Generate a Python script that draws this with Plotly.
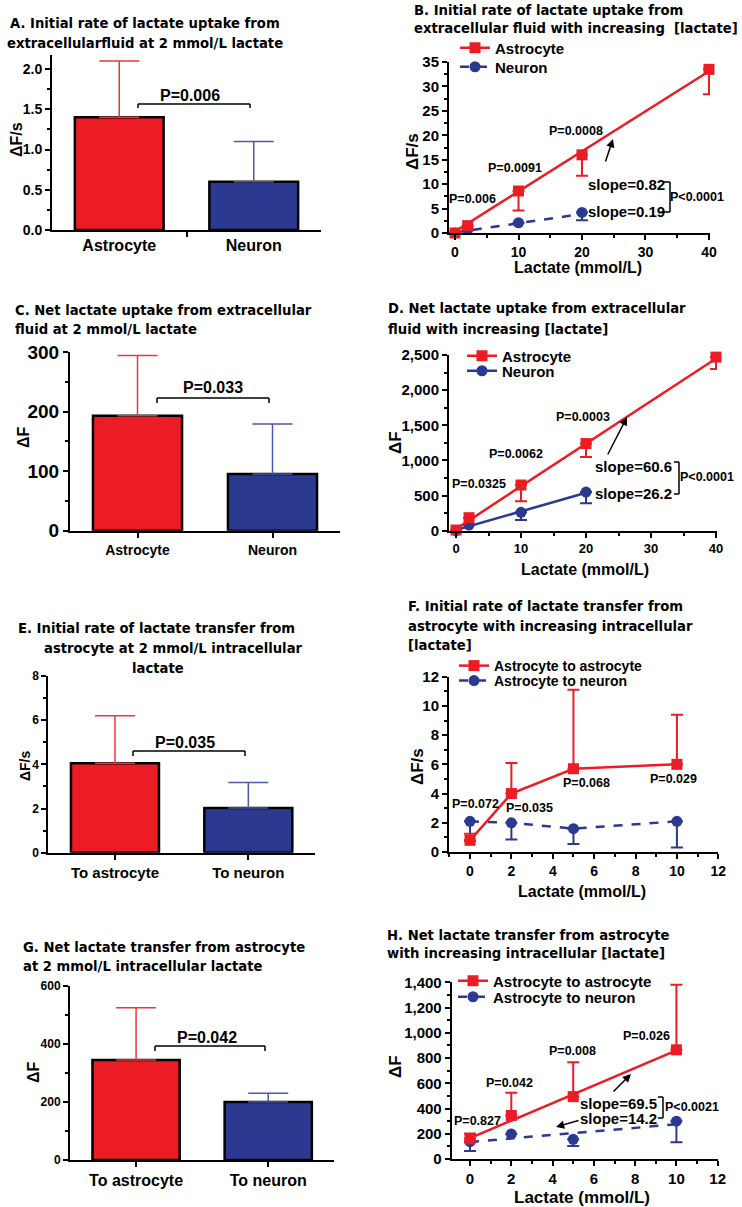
import plotly.graph_objects as go

W, H = 742, 1207
RED = "#EC1C24"
BLUE = "#2B3990"
RED_ERR = "#E8383D"
BLUE_ERR = "#4A5AA8"
FONT = "Liberation Sans"
TFONT = "DejaVu Sans"

# ---------------- data ----------------
# A: initial rate of uptake at 2 mmol/L
a_cats = ["Astrocyte", "Neuron"]
a_mean = [1.40, 0.60]
a_err = [0.70, 0.50]

# C: net uptake at 2 mmol/L
c_cats = ["Astrocyte", "Neuron"]
c_mean = [193, 95]
c_err = [101, 84]

# E: initial rate of transfer
e_cats = ["To astrocyte", "To neuron"]
e_mean = [4.05, 2.02]
e_err = [2.15, 1.16]

# G: net transfer
g_cats = ["To astrocyte", "To neuron"]
g_mean = [345, 200]
g_err = [180, 30]

# B: initial rate vs [lactate]
b_x_ast = [0, 2, 10, 20, 40]
b_y_ast = [0, 1.5, 8.6, 16.0, 33.5]
b_sd_ast = [0, 0, 4.0, 4.3, 5.1]
b_x_neu = [0, 2, 10, 20]
b_y_neu = [0, 0.7, 2.1, 4.2]
b_sd_neu = [0, 0, 0, 1.6]
b_fit_x_ast, b_fit_y_ast = [0, 40], [0.3, 33.1]
b_fit_x_neu, b_fit_y_neu = [0, 20], [0.1, 3.9]

# D: net uptake vs [lactate]
d_x_ast = [0, 2, 10, 20, 40]
d_y_ast = [10, 185, 650, 1240, 2470]
d_sd_ast = [0, 0, 230, 190, 170]
d_x_neu = [0, 2, 10, 20]
d_y_neu = [0, 80, 262, 550]
d_sd_neu = [0, 0, 110, 160]
d_fit_x_ast, d_fit_y_ast = [0, 40], [25, 2450]
d_fit_x_neu, d_fit_y_neu = [0, 20], [10, 540]

# F: initial transfer rate vs intracellular [lactate]
f_x = [0, 2, 5, 10]
f_y_ast = [0.8, 4.0, 5.7, 6.0]
f_up_ast = [0.45, 2.1, 5.4, 3.4]
f_y_neu = [2.1, 2.0, 1.6, 2.1]
f_dn_neu = [1.35, 1.15, 1.05, 1.8]

# H: net transfer vs intracellular [lactate]
h_x = [0, 2, 5, 10]
h_y_ast = [160, 345, 494, 865]
h_up_ast = [43, 180, 272, 515]
h_y_neu = [137, 198, 156, 300]
h_dn_neu = [74, 0, 53, 168]
h_fit_x_ast, h_fit_y_ast = [0, 10], [165, 860]
h_fit_x_neu, h_fit_y_neu = [0, 10], [135, 275]


def px(x):
    return x / W


def py(y):
    return 1 - y / H


def bfont(size, family=FONT):
    return dict(family=family, size=size, color="black", weight="bold")


fig = go.Figure()
layout = dict(width=W, height=H,
              margin=dict(l=0, r=0, t=0, b=0, pad=0, autoexpand=False),
              plot_bgcolor="white", paper_bgcolor="white", barmode="overlay",
              showlegend=True)
annotations = []
shapes = []


def sfx(n):
    return "" if n == 1 else str(n)


def axes(n, xpx, ypx, xr, yr, xkw, ykw):
    base = dict(showline=True, linecolor="black", linewidth=2, ticks="outside",
                ticklen=5, tickwidth=2, tickcolor="black", showgrid=False,
                zeroline=False, fixedrange=True, automargin=False)
    s = sfx(n)
    layout["xaxis" + s] = dict(base, domain=[px(xpx[0]), px(xpx[1])], range=xr,
                               anchor="y" + s, **xkw)
    layout["yaxis" + s] = dict(base, domain=[py(ypx[0]), py(ypx[1])], range=yr,
                               anchor="x" + s, **ykw)


def minor(d):
    return dict(ticks="outside", ticklen=3, tickwidth=1.5, tickcolor="black", dtick=d)


def txt(x, y, s, size=12, anchor="center", angle=0, family=FONT):
    annotations.append(dict(x=px(x), y=py(y), xref="paper", yref="paper", text=s,
                            showarrow=False, font=bfont(size, family), xanchor=anchor,
                            yanchor="middle", textangle=angle))


def title(x, y, s, anchor="left"):
    txt(x, y, s, 13.2, anchor, family=TFONT)


def arrow(hx, hy, tx, ty):
    annotations.append(dict(x=px(hx), y=py(hy), xref="paper", yref="paper", text="",
                            showarrow=True, ax=tx - hx, ay=ty - hy, arrowhead=2,
                            arrowsize=1.1, arrowwidth=1.5, arrowcolor="black"))


def seg(x0, y0, x1, y1, w=1.5):
    shapes.append(dict(type="line", xref="paper", yref="paper", x0=px(x0), y0=py(y0),
                       x1=px(x1), y1=py(y1), line=dict(color="black", width=w)))


def pbracket(x0, x1, y, leg, label, tx, ty, size=16):
    seg(x0, y, x1, y)
    seg(x0, y, x0, y + leg)
    seg(x1, y, x1, y + leg)
    txt(tx, ty, label, size)


def bars(n, mean, err):
    s = sfx(n)
    for i, (m, e, col, ecol) in enumerate(zip(mean, err, [RED, BLUE], [RED_ERR, BLUE_ERR])):
        fig.add_trace(go.Bar(
            x=[i], y=[m], width=0.66, xaxis="x" + s, yaxis="y" + s, showlegend=False,
            marker=dict(color=col, line=dict(color="black", width=2.5)),
            error_y=dict(type="data", array=[e], arrayminus=[0], symmetric=False,
                         color=ecol, thickness=1.5, width=20)))


def errs(x, up, dn, color):
    if up is None and dn is None:
        return None
    return dict(type="data", symmetric=False,
                array=up if up is not None else [0] * len(x),
                arrayminus=dn if dn is not None else [0] * len(x),
                color=color, thickness=2, width=6)


def points(n, x, y, color, symbol, up=None, dn=None):
    s = sfx(n)
    fig.add_trace(go.Scatter(x=x, y=y, mode="markers", xaxis="x" + s, yaxis="y" + s,
                             marker=dict(color=color, symbol=symbol, size=11),
                             error_y=errs(x, up, dn, color), cliponaxis=False,
                             showlegend=False))


def line(n, x, y, color, dash="solid", markers=False, symbol="square", up=None, dn=None):
    s = sfx(n)
    fig.add_trace(go.Scatter(x=x, y=y, mode="lines+markers" if markers else "lines",
                             xaxis="x" + s, yaxis="y" + s,
                             line=dict(color=color, width=2.5, dash=dash),
                             marker=dict(color=color, symbol=symbol, size=11),
                             error_y=errs(x, up, dn, color), cliponaxis=False,
                             showlegend=False))


legend_count = [0]


def legend_item(name, color, symbol, dash, xl, yc, size=14):
    legend_count[0] += 1
    k = legend_count[0]
    lname = "legend" if k == 1 else "legend%d" % k
    fig.add_trace(go.Scatter(x=[None], y=[None], mode="lines+markers", name=name,
                             legend=lname, line=dict(color=color, width=2.5, dash=dash),
                             marker=dict(color=color, symbol=symbol, size=11)))
    layout[lname] = dict(x=px(xl), y=py(yc), xanchor="left", yanchor="middle",
                         bgcolor="rgba(0,0,0,0)", font=bfont(size), itemwidth=30,
                         borderwidth=0, tracegroupgap=0)


# ---------------- Panel A ----------------
axes(1, (52, 321), (230, 55), [-0.5, 1.5], [0, 2.174],
     dict(tickvals=[0, 1], ticktext=a_cats, ticks="", tickfont=bfont(16),
          minor=dict(ticks="outside", tickvals=[0.5], ticklen=5, tickwidth=2, tickcolor="black")),
     dict(dtick=0.5, tick0=0, tickformat=".1f", tickfont=bfont(14), minor=minor(0.25)))
bars(1, a_mean, a_err)
title(145, 23, "A. Initial rate of lactate uptake from", "center")
title(145, 43, "extracellularfluid at 2 mmol/L lactate", "center")
txt(16, 140, "ΔF/s", 16, angle=-90)
pbracket(138, 250, 104, 4, "P=0.006", 190, 95, 16)

# ---------------- Panel B ----------------
axes(2, (449, 710), (233, 62), [-0.945, 40.16], [0, 35],
     dict(dtick=10, tick0=0, tickfont=bfont(14), minor=minor(5)),
     dict(dtick=5, tick0=0, tickfont=bfont(15), minor=minor(2.5)))
line(2, b_fit_x_neu, b_fit_y_neu, BLUE, dash="dash")
points(2, b_x_neu, b_y_neu, BLUE, "circle", dn=b_sd_neu)
line(2, b_fit_x_ast, b_fit_y_ast, RED)
points(2, b_x_ast, b_y_ast, RED, "square", dn=b_sd_ast)
title(412, 10, "B. Initial rate of lactate uptake from")
title(412, 28, "extracellular fluid with increasing  [lactate]")
txt(413, 152, "ΔF/s", 17, angle=-90)
txt(578, 268, "Lactate (mmol/L)", 16)
legend_item("Astrocyte", RED, "square", "solid", 455, 48, 15)
legend_item("Neuron", BLUE, "circle", "dash", 455, 67, 15)
txt(473, 199, "P=0.006", 12.5)
txt(515, 168, "P=0.0091", 12.5)
txt(576, 131, "P=0.0008", 12.5)
arrow(613, 139, 605, 163)
txt(626, 184, "slope=0.82", 15)
txt(626, 212, "slope=0.19", 15)
seg(664, 182, 670, 182)
seg(670, 182, 670, 212)
seg(661, 212, 670, 212)
txt(697, 197, "P<0.0001", 12.5)

# ---------------- Panel C ----------------
axes(3, (70, 340), (530.7, 352), [-0.5, 1.5], [0, 300],
     dict(tickvals=[0, 1], ticktext=c_cats, tickfont=bfont(14)),
     dict(dtick=100, tick0=0, tickfont=bfont(19), minor=minor(50)))
bars(3, c_mean, c_err)
title(13, 310, "C. Net lactate uptake from extracellular")
title(13, 329, "fluid at 2 mmol/L lactate")
txt(23, 437, "ΔF", 16, angle=-90)
pbracket(157, 269, 398, 5, "P=0.033", 213, 388, 16)

# ---------------- Panel D ----------------
axes(4, (449, 717), (530.7, 355), [-1.08, 40.15], [0, 2500],
     dict(dtick=10, tick0=0, tickfont=bfont(13), minor=minor(5)),
     dict(dtick=500, tick0=0, tickformat=",", tickfont=bfont(15), minor=minor(250)))
line(4, d_fit_x_neu, d_fit_y_neu, BLUE)
points(4, d_x_neu, d_y_neu, BLUE, "circle", dn=d_sd_neu)
line(4, d_fit_x_ast, d_fit_y_ast, RED)
points(4, d_x_ast, d_y_ast, RED, "square", dn=d_sd_ast)
title(386, 309, "D. Net lactate uptake from extracellular")
title(386, 329, "fluid with increasing [lactate]")
txt(395, 443, "ΔF", 17, angle=-90)
txt(585, 569, "Lactate (mmol/L)", 16)
legend_item("Astrocyte", RED, "square", "solid", 462, 356, 15)
legend_item("Neuron", BLUE, "circle", "solid", 462, 371, 15)
txt(479, 484, "P=0.0325", 12.5)
txt(516, 454, "P=0.0062", 12.5)
txt(583, 417, "P=0.0003", 12.5)
arrow(627, 417, 607, 456)
txt(633, 466, "slope=60.6", 15)
txt(633, 493, "slope=26.2", 15)
seg(674, 462, 679, 462)
seg(679, 462, 679, 494)
seg(674, 494, 679, 494)
txt(707, 477, "P<0.0001", 12.5)

# ---------------- Panel E ----------------
axes(5, (48.3, 315), (852.7, 676), [-0.5, 1.5], [0, 8],
     dict(tickvals=[0, 1], ticktext=e_cats, tickfont=bfont(15)),
     dict(dtick=2, tick0=0, tickfont=bfont(12), minor=minor(1)))
bars(5, e_mean, e_err)
title(156, 628, "E. Initial rate of lactate transfer from", "center")
title(173, 648, "astrocyte at 2 mmol/L intracellular", "center")
title(158, 668, "lactate", "center")
txt(25, 765, "ΔF/s", 14, angle=-90)
pbracket(133, 245, 751, 5, "P=0.035", 185, 742, 16)

# ---------------- Panel F ----------------
axes(6, (449, 718.3), (852, 676.7), [-1.015, 12], [0, 12],
     dict(dtick=2, tick0=0, tickfont=bfont(14), minor=minor(1)),
     dict(dtick=2, tick0=0, tickfont=bfont(15), minor=minor(1)))
line(6, f_x, f_y_neu, BLUE, dash="dash", markers=True, symbol="circle", dn=f_dn_neu)
line(6, f_x, f_y_ast, RED, markers=True, symbol="square", up=f_up_ast)
title(406, 606, "F. Initial rate of lactate transfer from")
title(406, 626, "astrocyte with increasing intracellular")
title(406, 645, "[lactate]")
txt(417, 767, "ΔF/s", 17, angle=-90)
txt(582, 891, "Lactate (mmol/L)", 16)
legend_item("Astrocyte to astrocyte", RED, "square", "solid", 454, 666, 14)
legend_item("Astrocyte to neuron", BLUE, "circle", "dash", 454, 681, 14)
txt(475, 804, "P=0.072", 12.5)
txt(529, 808, "P=0.035", 12.5)
txt(586, 783, "P=0.068", 12.5)
txt(673, 779, "P=0.029", 12.5)

# ---------------- Panel G ----------------
axes(7, (70, 334.3), (1160, 986), [-0.5, 1.5], [0, 600],
     dict(tickvals=[0, 1], ticktext=g_cats, tickfont=bfont(16)),
     dict(dtick=200, tick0=0, tickfont=bfont(12), minor=minor(100)))
bars(7, g_mean, g_err)
title(21, 947, "G. Net lactate transfer from astrocyte")
title(21, 967, "at 2 mmol/L intracellular lactate")
txt(33, 1072, "ΔF", 16, angle=-90)
pbracket(155, 265, 1046, 5, "P=0.042", 207, 1037, 16)

# ---------------- Panel H ----------------
axes(8, (451.7, 717.7), (1159, 982.3), [-0.887, 12], [0, 1400],
     dict(dtick=2, tick0=0, tickfont=bfont(15), minor=minor(1)),
     dict(dtick=200, tick0=0, tickformat=",", tickfont=bfont(15), minor=minor(100)))
line(8, h_fit_x_neu, h_fit_y_neu, BLUE, dash="dash")
points(8, h_x, h_y_neu, BLUE, "circle", dn=h_dn_neu)
line(8, h_fit_x_ast, h_fit_y_ast, RED)
points(8, h_x, h_y_ast, RED, "square", up=h_up_ast)
title(385, 935, "H. Net lactate transfer from astrocyte")
title(385, 953, "with increasing intracellular [lactate]")
txt(395, 1067, "ΔF", 17, angle=-90)
txt(582, 1197, "Lactate (mmol/L)", 17)
legend_item("Astrocyte to astrocyte", RED, "square", "solid", 453, 981, 15)
legend_item("Astrocyte to neuron", BLUE, "circle", "dash", 453, 997, 15)
txt(477, 1121, "P=0.827", 12.5)
txt(509, 1083, "P=0.042", 12.5)
txt(572, 1051, "P=0.008", 12.5)
txt(646, 1036, "P=0.026", 12.5)
arrow(631, 1074, 612, 1093)
arrow(556, 1127, 580, 1120)
txt(618, 1103, "slope=69.5", 15)
txt(618, 1118, "slope=14.2", 15)
seg(658, 1097, 663, 1097)
seg(663, 1097, 663, 1118)
seg(658, 1118, 663, 1118)
txt(692, 1107, "P<0.0021", 12.5)

layout["annotations"] = annotations
layout["shapes"] = shapes
fig.update_layout(**layout)
# drop the default page margin so the figure sits at the window's corner
fig.write_html("out.html", config={"displayModeBar": False},
               post_script="document.body.style.margin='0px';document.body.style.padding='0px';")
